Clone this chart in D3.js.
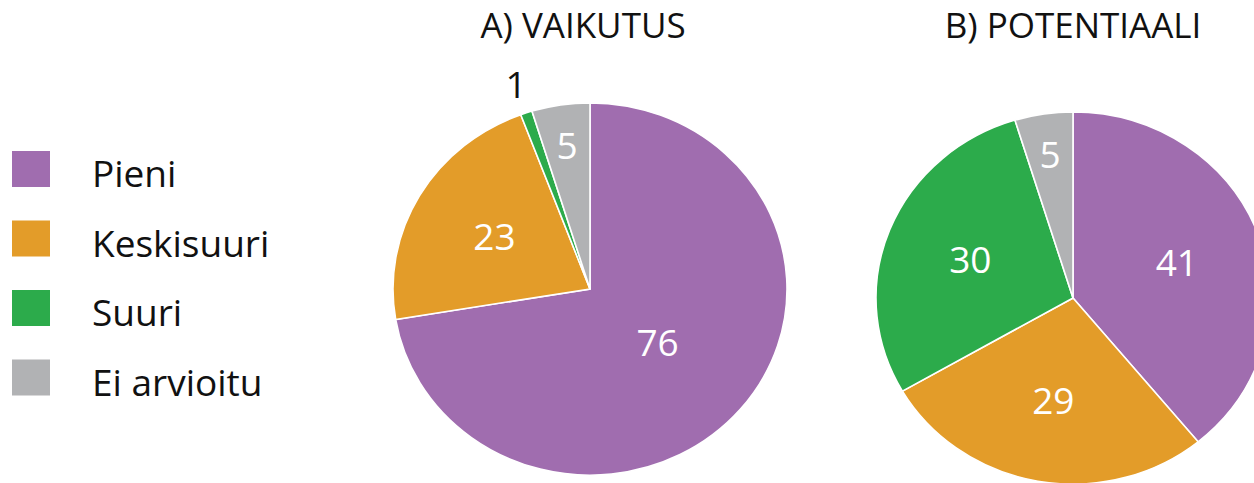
<!DOCTYPE html>
<html>
<head>
<meta charset="utf-8">
<script src="https://cdn.jsdelivr.net/npm/d3@7"></script>
<style>
  html, body { margin: 0; padding: 0; background: #fff; }
  text { font-family: "Open Sans", "Noto Sans", sans-serif; }
</style>
</head>
<body>
<svg id="chart" width="1254" height="483"></svg>
<script>
// data
var categories = ['Pieni', 'Keskisuuri', 'Suuri', 'Ei arvioitu'];
var colors = ['#a06daf', '#e39c29', '#2cab4b', '#b1b2b4'];
var vaikutus = [76, 23, 1, 5];
var potentiaali = [41, 29, 30, 5];
var titles = ['A) VAIKUTUS', 'B) POTENTIAALI'];

var svg = d3.select('#chart');

var radius = 197;
var squash = 0.945;   // the reference pies are slightly oval

var color = d3.scaleOrdinal().domain(categories).range(colors);

var pie = d3.pie()
    .sort(null)
    .value(function(d) { return d.value; });

var arc = d3.arc().innerRadius(0).outerRadius(radius);

function labelRadius(d, total) {
    var share = d.value / total;
    if (share < 0.02) return radius * 1.16;   // tiny slice: label outside
    if (share < 0.1) return radius * 0.78;
    if (share > 0.5) return radius * 0.45;
    return radius * 0.56;
}

function drawPie(values, title, cx, cy, tx) {
    var data = categories.map(function(c, i) { return {cat: c, value: values[i]}; });
    var total = d3.sum(values);
    var arcs = pie(data);

    var g = svg.append('g')
        .attr('transform', 'translate(' + cx + ',' + cy + ')');

    g.append('g')
        .attr('transform', 'scale(1,' + squash + ')')
        .selectAll('path')
        .data(arcs)
        .enter()
        .append('path')
        .attr('d', arc)
        .attr('fill', function(d) { return color(d.data.cat); })
        .attr('stroke', '#fff')
        .attr('stroke-width', 1.6)
        .attr('vector-effect', 'non-scaling-stroke');

    g.selectAll('text.val')
        .data(arcs)
        .enter()
        .append('text')
        .attr('class', 'val')
        .attr('text-anchor', 'middle')
        .attr('dy', '0.36em')
        .attr('font-size', 37)
        .attr('fill', function(d) { return (d.value / total < 0.02) ? '#111' : '#fff'; })
        .attr('transform', function(d) {
            var r = labelRadius(d, total);
            var c = d3.arc().innerRadius(r).outerRadius(r).centroid(d);
            return 'translate(' + c[0] + ',' + (c[1] * squash) + ')';
        })
        .text(function(d) { return d.value; });

    svg.append('text')
        .attr('x', tx)
        .attr('y', 38)
        .attr('text-anchor', 'middle')
        .attr('font-size', 35)
        .attr('fill', '#111')
        .text(title);
}

drawPie(vaikutus, titles[0], 590, 289, 583);
drawPie(potentiaali, titles[1], 1073, 298, 1073);

// legend
var legend = svg.append('g').attr('transform', 'translate(12,151)');
var item = legend.selectAll('g')
    .data(categories)
    .enter()
    .append('g')
    .attr('transform', function(d, i) { return 'translate(0,' + (i * 69.5) + ')'; });

item.append('rect')
    .attr('width', 38)
    .attr('height', 36)
    .attr('fill', function(d) { return color(d); });

item.append('text')
    .attr('x', 80)
    .attr('y', 36)
    .attr('font-size', 37)
    .attr('fill', '#111')
    .text(function(d) { return d; });
</script>
</body>
</html>
